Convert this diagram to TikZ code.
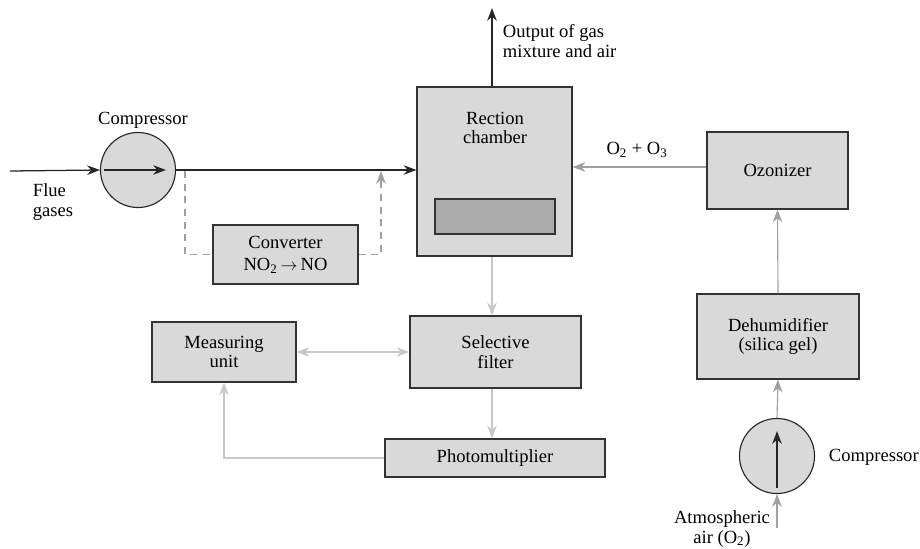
\documentclass[tikz,border=0pt]{standalone}
\usepackage{fontspec}
\setmainfont{Liberation Serif}
\usetikzlibrary{arrows.meta}

\definecolor{boxgray}{HTML}{D9D9D9}
\definecolor{darkgray}{HTML}{ABABAB}
\definecolor{midgray}{HTML}{A0A0A0}
\definecolor{lightgray}{HTML}{C8C8C8}

\tikzset{
    box/.style={draw=black!80, fill=boxgray, line width=0.8pt, inner sep=0pt, align=center},
    pump/.style={circle, draw=black!85, fill=boxgray, line width=0.8pt, minimum size=1.875cm, inner sep=0pt},
    tip/.style={-{Stealth[length=3.2mm,width=2.4mm]}},
    flow/.style={line width=0.9pt, black!85, tip},
    gflow/.style={line width=0.8pt, midgray, tip},
    lflow/.style={line width=0.8pt, lightgray, tip},
    dashline/.style={line width=0.8pt, midgray, dash pattern=on 5pt off 4pt},
    lbl/.style={align=center}
}

\begin{document}
\begin{tikzpicture}[x=0.025cm, y=-0.025cm, every node/.style={font=\fontsize{13.2}{13.8}\selectfont}]
    \useasboundingbox (0,0) rectangle (920,548); % same frame as the reference

    % Blocks
    \node[box, minimum width=3.875cm, minimum height=4.225cm] (chamber) at (494.5,171.5) {};
    \node[draw=black!80, fill=darkgray, line width=0.8pt, minimum width=3cm, minimum height=0.875cm] (plate) at (495,216.5) {};
    \node[lbl] (chtxt) at (495,128) {Rection\\chamber};
    \node[box, minimum width=3.625cm, minimum height=1.475cm] (conv) at (285.5,254.5) {Converter\\[2pt]NO\textsubscript{2}\,$\rightarrow$\,NO};
    \node[box, minimum width=3.525cm, minimum height=1.925cm] (ozon) at (777.5,170.5) {Ozonizer};
    \node[box, minimum width=4.05cm, minimum height=2.125cm] (dehum) at (778,336.5) {Dehumidifier\\(silica gel)};
    \node[box, minimum width=4.275cm, minimum height=1.8cm] (filter) at (495.5,352) {Selective\\filter};
    \node[box, minimum width=3.6cm, minimum height=1.5cm] (meas) at (224,352) {Measuring\\unit};
    \node[box, minimum width=5.5cm, minimum height=0.95cm] (photo) at (495,458) {Photomultiplier};

    % Compressors
    \node[pump] (comp1) at (138,170) {};
    \node[pump] (comp2) at (777,456) {};
    \draw[flow] (comp1.west) ++(4,0) coordinate (c1a) -- ++(62,0) coordinate (c1b);
    \draw[flow] (comp2.south) ++(0,-6) coordinate (c2a) -- ++(0,-57) coordinate (c2b);

    % Labels
    \node[lbl] (comp1lbl) at (143,120) {Compressor};
    \node[lbl, anchor=west] (comp2lbl) at (824,457) {Compressor};
    \node[lbl, align=left, anchor=west] (flue) at (28,202) {Flue\\gases};
    \node[lbl, align=left, anchor=west] (outlbl) at (498,41) {Output of gas\\mixture and air};
    \node[lbl] (o3lbl) at (637,150) {O\textsubscript{2} + O\textsubscript{3}};
    \node[lbl] (atm) at (722,529) {Atmospheric\\air (O\textsubscript{2})};

    % Gas line
    \coordinate (inlet) at (10,171);
    \coordinate (outlet) at (492,8);
    \coordinate (bypL) at (185,171);
    \coordinate (bypR) at (381,171);
    \coordinate (air) at (777,528);
    \draw[flow] (inlet) -- (comp1.west);
    \draw[flow] (comp1.east) -- (comp1.east -| chamber.west);
    \draw[flow] (chamber.north -| outlet) -- (outlet);
    \draw[dashline] (bypL) |- (conv.west); % bypass through the converter
    \draw[dashline] (conv.east) -| ([yshift=-0.35cm]bypR);
    \draw[gflow] ([yshift=-0.35cm]bypR) -- (bypR);

    % Ozone line
    \coordinate (o3) at ([yshift=0.0875cm]ozon.west);
    \draw[gflow] (o3) -- (o3 -| chamber.east);
    \draw[gflow] (dehum.north) -- (ozon.south);
    \draw[gflow] (comp2.north) -- (dehum.south);
    \draw[gflow] (air) -- (comp2.south);

    % Measuring line
    \draw[lflow] (chamber.south -| 492,0) -- (filter.north -| 492,0);
    \draw[lflow] (filter.south -| 492,0) -- (photo.north -| 492,0);
    \draw[lflow, {Stealth[length=3.2mm,width=2.4mm]}-{Stealth[length=3.2mm,width=2.4mm]}] (meas.east) -- (filter.west);
    \draw[lflow] (photo.west) -| (meas.south);

\end{tikzpicture}
\end{document}
